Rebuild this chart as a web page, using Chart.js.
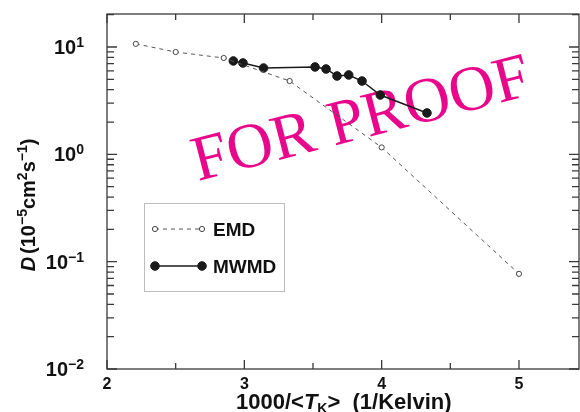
<!DOCTYPE html>
<html>
<head>
<meta charset="utf-8">
<script src="https://cdn.jsdelivr.net/npm/chart.js@4"></script>
<style>
body { margin: 0; background: #fff; }
#wrap { width: 580px; height: 412px; }
</style>
</head>
<body>
<div id="wrap"><canvas id="diffChart" width="580" height="412"></canvas></div>
<script>
// data
const emdX = [2.21, 2.50, 2.85, 3.33, 4.00, 5.00];
const emdY = [10.7, 8.98, 7.9, 4.82, 1.16, 0.077];
const mwmdX = [2.92, 2.99, 3.14, 3.515, 3.595, 3.675, 3.76, 3.857, 3.99, 4.33];
const mwmdY = [7.41, 7.1, 6.37, 6.52, 6.24, 5.37, 5.49, 4.82, 3.57, 2.43];
const seriesNames = ['EMD', 'MWMD'];
const xTicks = [2, 3, 4, 5];
const xMinorTicks = [2.5, 3.5, 4.5];
const yTickExp = [-2, -1, 0, 1];

const BOLD = 'bold 20px "Liberation Sans", Arial, sans-serif';
const SUP = 'bold 14px "Liberation Sans", Arial, sans-serif';

function toPts(xs, ys) {
  return xs.map((x, i) => ({x: x, y: ys[i]}));
}

// draw a run of text pieces (for super/subscripts)
function drawParts(c, parts, x, y) {
  parts.forEach(p => {
    c.font = p.font;
    c.fillText(p.t, x, y + (p.dy || 0));
    x += c.measureText(p.t).width + (p.gap || 0);
  });
}
function partsWidth(c, parts) {
  let w = 0;
  parts.forEach(p => { c.font = p.font; w += c.measureText(p.t).width + (p.gap || 0); });
  return w;
}

const decor = {
  id: 'decor',
  beforeDatasetsDraw(chart) {
    const c = chart.ctx;
    // watermark
    c.save();
    c.fillStyle = '#e8078a';
    c.font = '64px "Liberation Serif", "Times New Roman", serif';
    c.translate(198, 181);
    c.rotate(-14.5 * Math.PI / 180);
    c.fillText('FOR PROOF', 0, 0);
    c.restore();
  },
  afterDraw(chart) {
    const c = chart.ctx;
    const a = chart.chartArea;
    const xs = chart.scales.x, ys = chart.scales.y;
    c.save();
    c.strokeStyle = '#3a3a3a';
    c.lineWidth = 1.3;
    c.strokeRect(a.left, a.top, a.right - a.left, a.bottom - a.top);

    // x ticks, bottom and top, pointing inward
    c.beginPath();
    xTicks.forEach(v => {
      const px = xs.getPixelForValue(v);
      c.moveTo(px, a.bottom); c.lineTo(px, a.bottom - 9);
      c.moveTo(px, a.top); c.lineTo(px, a.top + 9);
    });
    xMinorTicks.forEach(v => {
      const px = xs.getPixelForValue(v);
      c.moveTo(px, a.bottom); c.lineTo(px, a.bottom - 6);
      c.moveTo(px, a.top); c.lineTo(px, a.top + 6);
    });
    // y ticks, left and right
    yTickExp.forEach(e => {
      const py = ys.getPixelForValue(Math.pow(10, e));
      c.moveTo(a.left, py); c.lineTo(a.left + 10, py);
      c.moveTo(a.right, py); c.lineTo(a.right - 10, py);
      for (let m = 2; m <= 9; m++) {
        const v = m * Math.pow(10, e);
        if (v > ys.max) break;
        const pm = ys.getPixelForValue(v);
        c.moveTo(a.left, pm); c.lineTo(a.left + 7, pm);
        c.moveTo(a.right, pm); c.lineTo(a.right - 7, pm);
      }
    });
    c.stroke();

    c.fillStyle = '#111';
    // x tick labels
    c.font = 'bold 16px "Liberation Sans", Arial, sans-serif';
    c.textAlign = 'center';
    c.textBaseline = 'alphabetic';
    xTicks.forEach(v => {
      c.fillText(String(v), xs.getPixelForValue(v), 389);
    });
    // y tick labels 10^n
    c.textAlign = 'left';
    yTickExp.forEach(e => {
      const py = ys.getPixelForValue(Math.pow(10, e));
      const parts = [{t: '10', font: BOLD}, {t: e < 0 ? '\u2212' + (-e) : String(e), font: SUP, dy: -7}];
      const w = partsWidth(c, parts);
      drawParts(c, parts, 84 - w, py + 7);
    });

    // x title
    const xt = [
      {t: '1000/<', font: 'bold 22px "Liberation Sans", Arial, sans-serif'},
      {t: 'T', font: 'italic bold 22px "Liberation Sans", Arial, sans-serif'},
      {t: 'K', font: 'bold 14px "Liberation Sans", Arial, sans-serif', dy: 4},
      {t: '>  (1/Kelvin)', font: 'bold 22px "Liberation Sans", Arial, sans-serif'}
    ];
    drawParts(c, xt, 236, 409);

    // y title, rotated
    const yt = [
      {t: 'D', font: 'italic bold 20px "Liberation Sans", Arial, sans-serif', gap: 3},
      {t: '(10', font: BOLD},
      {t: '\u22125', font: SUP, dy: -8},
      {t: 'cm', font: BOLD},
      {t: '2', font: SUP, dy: -8},
      {t: 's', font: BOLD},
      {t: '\u22121', font: SUP, dy: -8},
      {t: ')', font: BOLD}
    ];
    const yw = partsWidth(c, yt);
    c.save();
    c.translate(35, 205 + yw / 2);
    c.rotate(-Math.PI / 2);
    drawParts(c, yt, 0, 0);
    c.restore();

    // legend box
    c.strokeStyle = '#bdbdbd';
    c.lineWidth = 1;
    c.strokeRect(144.5, 203.5, 140, 88);
    const ds = chart.data.datasets;
    [229, 266].forEach((ly, i) => {
      const d = ds[i];
      c.beginPath();
      c.strokeStyle = d.borderColor;
      c.lineWidth = d.borderWidth;
      c.setLineDash(d.borderDash || []);
      c.moveTo(155, ly); c.lineTo(202, ly);
      c.stroke();
      c.setLineDash([]);
      [155, 202].forEach(px => {
        c.beginPath();
        c.arc(px, ly, d.pointRadius, 0, Math.PI * 2);
        c.fillStyle = d.pointBackgroundColor;
        c.fill();
        c.lineWidth = d.pointBorderWidth;
        c.strokeStyle = d.pointBorderColor;
        c.stroke();
      });
      c.fillStyle = '#111';
      c.font = 'bold 19px "Liberation Sans", Arial, sans-serif';
      c.fillText(seriesNames[i], 213, ly + 7);
    });
    c.restore();
  }
};

new Chart(document.getElementById('diffChart'), {
  type: 'scatter',
  data: {
    datasets: [{
      label: seriesNames[0],
      data: toPts(emdX, emdY),
      showLine: true,
      borderColor: '#555',
      borderWidth: 1,
      borderDash: [4, 4],
      pointRadius: 2.6,
      pointBackgroundColor: '#fff',
      pointBorderColor: '#444',
      pointBorderWidth: 1
    }, {
      label: seriesNames[1],
      data: toPts(mwmdX, mwmdY),
      showLine: true,
      borderColor: '#1a1a1a',
      borderWidth: 1.5,
      pointRadius: 4.3,
      pointBackgroundColor: '#1a1a1a',
      pointBorderColor: '#1a1a1a',
      pointBorderWidth: 1
    }]
  },
  options: {
    responsive: false,
    animation: false,
    layout: { autoPadding: false, padding: { top: 14, right: 1, left: 0, bottom: 0 } },
    plugins: { legend: { display: false }, tooltip: { enabled: false } },
    scales: {
      x: {
        type: 'linear', min: 2, max: 5.437,
        grid: { display: false }, border: { display: false },
        ticks: { display: false },
        afterFit: s => { s.height = 43; }
      },
      y: {
        type: 'logarithmic', min: 0.01, max: 20.3,
        grid: { display: false }, border: { display: false },
        ticks: { display: false },
        afterFit: s => { s.width = 107; }
      }
    }
  },
  plugins: [decor]
});
</script>
</body>
</html>
